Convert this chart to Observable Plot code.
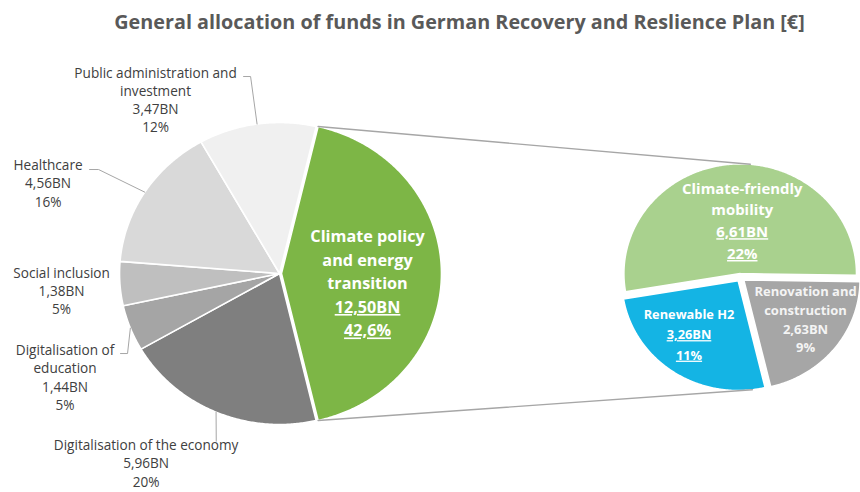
<!DOCTYPE html>
<html><head><meta charset="utf-8">
<script src="https://cdn.jsdelivr.net/npm/d3@7"></script>
<script src="https://cdn.jsdelivr.net/npm/@observablehq/plot@0.6"></script>
<style>html,body{margin:0;padding:0;background:#fff}</style>
</head><body><div id="chart"></div>
<script>
// ---------- data ----------
const titleText = "General allocation of funds in German Recovery and Reslience Plan [€]";
const mainCategories = ["Climate policy and energy transition","Digitalisation of the economy","Digitalisation of education","Social inclusion","Healthcare","Public administration and investment"];
const mainValues = [12.50, 5.96, 1.44, 1.38, 4.56, 3.47];
const mainValueLabels = ["12,50BN","5,96BN","1,44BN","1,38BN","4,56BN","3,47BN"];
const mainPercentLabels = ["42,6%","20%","5%","5%","16%","12%"];
const subCategories = ["Climate-friendly mobility","Renovation and construction","Renewable H2"];
const subValues = [6.61, 2.63, 3.26];
const subValueLabels = ["6,61BN","2,63BN","3,26BN"];
const subPercentLabels = ["22%","9%","11%"];

// ---------- styles / layout ----------
const mainColors = ["#7db646","#7f7f7f","#a5a5a5","#bfbfbf","#d9d9d9","#f0f0f0"];
const subColors = ["#a9d18e","#a6a6a6","#14b4e4"];
const mainNameLines = [["Climate policy","and energy","transition"],["Digitalisation of the economy"],["Digitalisation of","education"],["Social inclusion"],["Healthcare"],["Public administration and","investment"]];
const subNameLines = [["Climate-friendly","mobility"],["Renovation and","construction"],["Renewable H2"]];
const W = 860, H = 492;
const xDomain = [-1.744, 3.631], yDomain = [-1.450, 1.808];
const yPerPx = (yDomain[1] - yDomain[0]) / H;
// chart units: main pie radius = 1
const mainCenter = [0, 0], mainR = 1, mainExplode = [0.012, 0, 0, 0, 0, 0];
const subCenter = [2.881, -0.0265], subR = 0.727, subExplode = [0.026, 0.026, 0.026];
const subStartDeg = -99.5;
const outsideLabelPos = {1:[-0.834,-1.14], 2:[-1.3406,-0.51], 3:[-1.3625,0], 4:[-1.447,0.715], 5:[-0.775,1.3265]};
const outsideStep = 18.3;
const leaderPts = {5:[[-0.225,1.3046],[-0.181,1.3046]], 4:[[-1.1875,0.6887],[-1.131,0.6887]], 2:[[-0.994,-0.5298],[-0.95,-0.5298]], 1:[[-0.3955,-1.11]]};
const insideLabels = [
  {pie:"main", i:0, pos:[0.55,0.240], step:23.5, size:16.2, underline:true, fill:"white"},
  {pie:"sub", i:0, pos:[2.892,0.561], step:21.8, size:14.9, underline:true, fill:"white"},
  {pie:"sub", i:2, pos:[2.559,-0.2715], step:20.5, size:12.8, underline:true, fill:"white"},
  {pie:"sub", i:1, pos:[3.2875,-0.124], step:18.6, size:13, underline:false, fill:"#f4f4f4"}
];
const font = "'Open Sans', sans-serif";

// ---------- geometry ----------
const rad = d => d * Math.PI / 180;
const mainTotal = d3.sum(mainValues);
const mainStartDeg = 90 - mainValues[0] / mainTotal * 360 / 2; // split slice faces the secondary pie

function slices(values, startDeg, center, r, explode, names) {
  const tot = d3.sum(values);
  let a = startDeg;
  return values.map((v, i) => {
    const a0 = a, a1 = a + v / tot * 360; a = a1;
    const mid = (a0 + a1) / 2;
    const off = [explode[i] * Math.sin(rad(mid)), explode[i] * Math.cos(rad(mid))];
    return {name: names[i], a0, a1, mid, c: [center[0] + off[0], center[1] + off[1]], r};
  });
}
const pt = (s, deg, rr = s.r) => [s.c[0] + rr * Math.sin(rad(deg)), s.c[1] + rr * Math.cos(rad(deg))];
function outline(s) {
  const rows = [{key: s.name, x: s.c[0], y: s.c[1]}];
  const n = Math.max(2, Math.ceil((s.a1 - s.a0) / 0.5));
  for (let k = 0; k <= n; k++) {
    const p = pt(s, s.a0 + (s.a1 - s.a0) * k / n);
    rows.push({key: s.name, x: p[0], y: p[1]});
  }
  rows.push({key: s.name, x: s.c[0], y: s.c[1]});
  return rows;
}
const mainSlices = slices(mainValues, mainStartDeg, mainCenter, mainR, mainExplode, mainCategories);
const subSlices = slices(subValues, subStartDeg, subCenter, subR, subExplode, subCategories);
const sliceRows = [...mainSlices, ...subSlices].flatMap(outline);

// connector lines: split slice edges -> secondary pie top / bottom
const g = mainSlices[0];
const conn = [
  {k:"top", p: pt(g, g.a0)}, {k:"top", p: pt(subSlices[0], 5)},
  {k:"bot", p: pt(g, g.a1)}, {k:"bot", p: pt(subSlices[2], 173)}
].map(d => ({k: d.k, x: d.p[0], y: d.p[1]}));

// leader lines end on the rim at each slice's mid angle
const leaderRows = Object.entries(leaderPts).flatMap(([i, pts]) => {
  const s = mainSlices[+i];
  return [...pts, pt(s, s.mid, 1.0)].map(p => ({k: i, x: p[0], y: p[1]}));
});

// outside labels (one row per text line)
const outsideRows = Object.entries(outsideLabelPos).flatMap(([i, pos]) => {
  const lines = [...mainNameLines[+i], mainValueLabels[+i], mainPercentLabels[+i]];
  return lines.map((t, j) => ({x: pos[0], y: pos[1] - j * outsideStep * yPerPx, text: t}));
});
function insideRows(L) {
  const i = L.i;
  const names = L.pie === "main" ? mainNameLines[i] : subNameLines[i];
  const lines = L.pie === "main"
    ? [...names, mainValueLabels[i], mainPercentLabels[i]]
    : [...names, subValueLabels[i], subPercentLabels[i]];
  return lines.map((t, j) => ({x: L.pos[0], y: L.pos[1] - j * L.step * yPerPx, text: t, ul: L.underline && j >= names.length}));
}

const marks = [
  Plot.line(sliceRows, {x: "x", y: "y", z: "key", fill: "key", stroke: "white", strokeWidth: 1.6, strokeLinejoin: "round", curve: "linear"}),
  Plot.line(conn, {x: "x", y: "y", z: "k", stroke: "#a6a6a6", strokeWidth: 1.4}),
  Plot.line(leaderRows, {x: "x", y: "y", z: "k", stroke: "#a6a6a6", strokeWidth: 1}),
  Plot.text(outsideRows, {x: "x", y: "y", text: "text", fill: "#404040", fontSize: 13.6}),
  ...insideLabels.flatMap(L => {
    const rows = insideRows(L);
    return [
      Plot.text(rows.filter(r => !r.ul), {x: "x", y: "y", text: "text", fill: L.fill, fontSize: L.size, fontWeight: "bold"}),
      Plot.text(rows.filter(r => r.ul), {x: "x", y: "y", text: "text", fill: L.fill, fontSize: L.size, fontWeight: "bold", ariaDescription: "underline"})
    ];
  }),
  Plot.text([titleText], {frameAnchor: "top", dx: 29, dy: 22, text: d => d, fill: "#595959", fontSize: 19.8, fontWeight: "bold", lineAnchor: "middle"})
];

const chart = Plot.plot({
  width: W, height: H, margin: 0,
  x: {domain: xDomain, axis: null},
  y: {domain: yDomain, axis: null},
  color: {domain: [...mainCategories, ...subCategories], range: [...mainColors, ...subColors]},
  style: {fontFamily: font, background: "white", overflow: "visible"},
  marks
});
document.getElementById("chart").appendChild(chart);
d3.select(chart).selectAll("g[aria-description='underline'] text").attr("text-decoration", "underline");
</script>
</body></html>
